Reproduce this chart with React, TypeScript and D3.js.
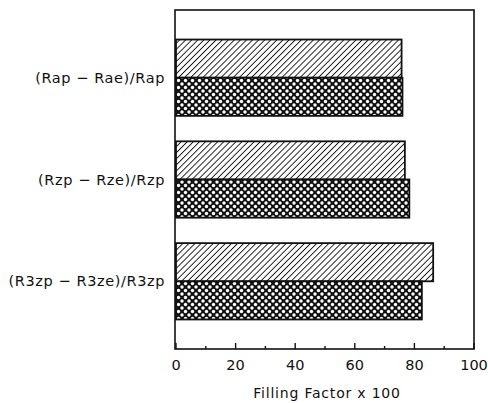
import React from "react";
import * as d3 from "d3";

const categories = ["(Rap − Rae)/Rap", "(Rzp − Rze)/Rzp", "(R3zp − R3ze)/R3zp"];
const hatchedValues = [75.7, 76.8, 86.3];
const crossValues = [76.0, 78.3, 82.5];
const majorTicks = [0, 20, 40, 60, 80, 100];
const minorTicks = [10, 30, 50, 70, 90];

const W = 488;
const H = 403;
const margin = { top: 10, right: 14, bottom: 54, left: 176 };
const font = "'DejaVu Sans', sans-serif";

export default function App() {
  const plotRight = W - margin.right;
  const plotBottom = H - margin.bottom;

  const x = d3.scaleLinear().domain([0, 100]).range([margin.left, plotRight]);
  const y = d3
    .scaleBand<string>()
    .domain(categories)
    .range([margin.top, plotBottom])
    .paddingInner(0.25)
    .paddingOuter(0.29);
  const half = y.bandwidth() / 2;

  return (
    <svg
      width={W}
      height={H}
      viewBox={`0 0 ${W} ${H}`}
      style={{ position: "absolute", left: 0, top: 0, background: "#fff" }}
    >
      <defs>
        <pattern
          id="hatch"
          patternUnits="userSpaceOnUse"
          width={4.3}
          height={4.3}
          patternTransform="rotate(45)"
        >
          <rect width={4.3} height={4.3} fill="#fff" />
          <line x1={0} y1={0} x2={0} y2={4.3} stroke="#111" strokeWidth={1.8} />
        </pattern>
        <pattern id="cross" patternUnits="userSpaceOnUse" width={7} height={7}>
          <rect width={7} height={7} fill="#111" />
          <circle cx={0} cy={0} r={1.7} fill="#fff" />
          <circle cx={7} cy={0} r={1.7} fill="#fff" />
          <circle cx={0} cy={7} r={1.7} fill="#fff" />
          <circle cx={7} cy={7} r={1.7} fill="#fff" />
          <circle cx={3.5} cy={3.5} r={1.7} fill="#fff" />
        </pattern>
      </defs>

      {categories.map((c, i) => {
        const y0 = y(c)!;
        return (
          <g key={c}>
            <rect
              x={x(0)}
              y={y0}
              width={x(hatchedValues[i]) - x(0)}
              height={half}
              fill="url(#hatch)"
              stroke="#111"
              strokeWidth={1.8}
            />
            <rect
              x={x(0)}
              y={y0 + half}
              width={x(crossValues[i]) - x(0)}
              height={half}
              fill="url(#cross)"
              stroke="#111"
              strokeWidth={1.8}
            />
            <text
              x={165}
              y={y0 + half + 5}
              textAnchor="end"
              fontFamily={font}
              fontSize={14.5}
              letterSpacing={0.6}
              fill="#111"
            >
              {c}
            </text>
          </g>
        );
      })}

      <rect
        x={margin.left - 1}
        y={margin.top}
        width={plotRight - margin.left + 1}
        height={plotBottom - margin.top}
        fill="none"
        stroke="#111"
        strokeWidth={1.6}
      />

      {majorTicks.map((t) => (
        <g key={t}>
          <line x1={x(t)} x2={x(t)} y1={plotBottom} y2={plotBottom - 6} stroke="#111" strokeWidth={1.4} />
          <text
            x={x(t)}
            y={plotBottom + 21}
            textAnchor="middle"
            fontFamily={font}
            fontSize={14.5}
            fill="#111"
          >
            {t}
          </text>
        </g>
      ))}
      {minorTicks.map((t) => (
        <line key={t} x1={x(t)} x2={x(t)} y1={plotBottom} y2={plotBottom - 3} stroke="#111" strokeWidth={1.4} />
      ))}

      <text
        x={(x(0) + x(100)) / 2 + 2}
        y={H - 5}
        textAnchor="middle"
        fontFamily={font}
        fontSize={14}
        letterSpacing={0.8}
        fill="#111"
      >
        Filling Factor x 100
      </text>
    </svg>
  );
}
